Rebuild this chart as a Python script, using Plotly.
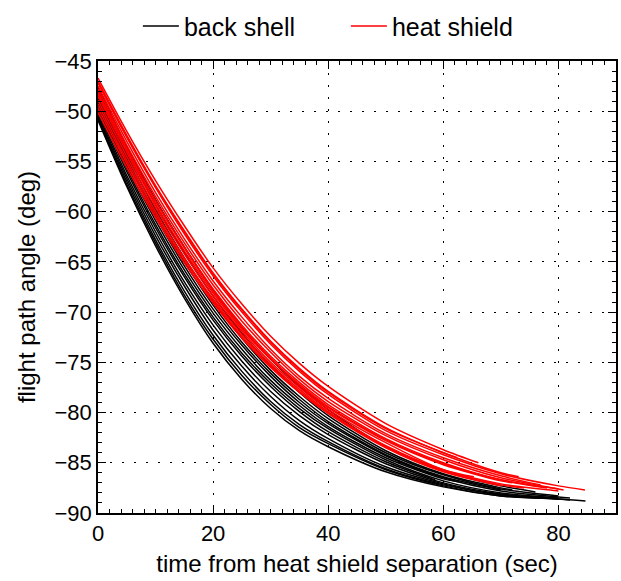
import plotly.graph_objects as go

# ---- data (time in s, flight path angle in deg) ----
T_STD = [0, 5, 10, 15, 20, 25, 30, 35, 40, 50, 60, 70, 80]

back_shell_t = [
    T_STD[:12] + [76],
    T_STD[:12] + [72],
    T_STD[:13],
    T_STD[:12],
    T_STD[:13] + [82],
    T_STD[:11] + [62.7],
    T_STD[:13],
    T_STD[:10] + [58.6],
    T_STD[:13] + [82],
    T_STD[:12] + [75],
    T_STD[:13],
    T_STD[:13],
    T_STD[:13] + [84.7],
]
back_shell_v = [
    [-47.6, -53.5, -58.8, -63.5, -67.8, -71.5, -74.7, -77.4, -79.7, -83.4, -85.8, -87.3, -87.9],
    [-47.9, -53.9, -59.3, -64.1, -68.4, -72.1, -75.3, -78.0, -80.3, -83.8, -86.1, -87.5, -87.7],
    [-48.2, -54.3, -59.8, -64.6, -68.9, -72.6, -75.8, -78.4, -80.6, -84.0, -86.2, -87.6, -88.3],
    [-48.5, -54.7, -60.2, -65.0, -69.3, -73.0, -76.1, -78.7, -80.9, -84.2, -86.4, -87.7],
    [-48.8, -55.0, -60.5, -65.4, -69.7, -73.3, -76.4, -79.0, -81.1, -84.3, -86.5, -87.8, -88.4, -88.5],
    [-49.1, -55.4, -60.9, -65.8, -70.1, -73.7, -76.8, -79.3, -81.4, -84.5, -86.6, -86.9],
    [-49.4, -55.7, -61.3, -66.2, -70.5, -74.1, -77.1, -79.6, -81.6, -84.7, -86.8, -88.0, -88.5],
    [-49.7, -56.0, -61.6, -66.5, -70.8, -74.4, -77.4, -79.9, -81.9, -84.9, -86.7],
    [-50.0, -56.4, -62.0, -67.0, -71.3, -74.9, -77.9, -80.3, -82.2, -85.1, -87.0, -88.1, -88.6, -88.7],
    [-50.3, -56.7, -62.4, -67.4, -71.8, -75.4, -78.4, -80.8, -82.6, -85.4, -87.1, -88.2, -88.4],
    [-50.5, -57.0, -62.8, -67.9, -72.3, -75.9, -78.9, -81.2, -82.9, -85.6, -87.2, -88.2, -88.6],
    [-50.7, -57.3, -63.1, -68.3, -72.7, -76.3, -79.2, -81.5, -83.1, -85.7, -87.3, -88.3, -88.6],
    [-50.9, -57.5, -63.4, -68.6, -73.1, -76.7, -79.6, -81.8, -83.4, -85.9, -87.4, -88.3, -88.6, -88.8],
]

heat_shield_t = [
    T_STD[:11] + [66.1],
    T_STD[:12] + [73.1],
    T_STD[:13] + [84.6],
    T_STD[:12] + [76.9],
    T_STD[:13] + [80.9],
    T_STD[:11] + [62.4],
    T_STD[:12] + [78],
    T_STD[:12] + [72],
    T_STD[:11] + [65.3],
    T_STD[:13],
    T_STD[:12] + [74],
    T_STD[:12],
    T_STD[:13],
]
heat_shield_v = [
    [-46.7, -52.0, -56.9, -61.4, -65.6, -69.2, -72.4, -75.1, -77.4, -81.1, -83.7, -85.0],
    [-47.0, -52.4, -57.4, -61.9, -66.1, -69.7, -72.9, -75.6, -77.9, -81.5, -84.0, -86.0, -86.4],
    [-47.2, -52.6, -57.6, -62.2, -66.4, -70.0, -73.2, -75.9, -78.2, -81.8, -84.2, -86.1, -87.3, -87.7],
    [-47.5, -53.0, -58.1, -62.7, -66.9, -70.5, -73.7, -76.4, -78.6, -82.1, -84.5, -86.3, -87.2],
    [-47.8, -53.4, -58.5, -63.1, -67.3, -70.9, -74.0, -76.7, -78.9, -82.3, -84.7, -86.5, -87.6, -87.7],
    [-47.1, -52.5, -57.5, -62.0, -66.2, -69.8, -73.0, -75.7, -78.0, -81.6, -84.0, -84.5],
    [-48.1, -53.7, -58.9, -63.5, -67.7, -71.3, -74.4, -77.0, -79.2, -82.6, -85.0, -86.7, -87.5],
    [-48.5, -54.1, -59.3, -63.9, -68.1, -71.7, -74.7, -77.3, -79.5, -82.8, -85.2, -86.8, -87.0],
    [-48.9, -54.5, -59.6, -64.2, -68.4, -71.9, -75.0, -77.5, -79.7, -83.0, -85.7, -86.4],
    [-49.3, -54.9, -60.0, -64.6, -68.7, -72.2, -75.2, -77.7, -79.9, -83.3, -85.7, -87.1, -87.8],
    [-49.7, -55.2, -60.3, -64.8, -68.9, -72.4, -75.4, -77.9, -80.0, -83.4, -85.8, -87.2, -87.5],
    [-50.1, -55.6, -60.6, -65.1, -69.1, -72.6, -75.5, -78.0, -80.1, -83.5, -85.9, -87.3],
    [-48.3, -53.9, -59.0, -63.6, -67.9, -71.5, -74.6, -77.2, -79.4, -82.7, -85.1, -86.7, -87.6],
]

x_ticks = [0, 20, 40, 60, 80]
y_ticks = [-90, -85, -80, -75, -70, -65, -60, -55, -50, -45]

FONT = "Liberation Sans, Arial, Helvetica, sans-serif"
LW = 1.5

fig = go.Figure()

for i, (t, v) in enumerate(zip(back_shell_t, back_shell_v)):
    fig.add_trace(go.Scatter(x=t, y=v, mode="lines",
                             line=dict(color="black", width=LW, shape="spline", smoothing=0.8),
                             name="back shell", legendgroup="bs", showlegend=(i == 0)))
for i, (t, v) in enumerate(zip(heat_shield_t, heat_shield_v)):
    fig.add_trace(go.Scatter(x=t, y=v, mode="lines",
                             line=dict(color="#ff0000", width=LW, shape="spline", smoothing=0.8),
                             name="heat shield", legendgroup="hs", showlegend=(i == 0)))

axis_common = dict(
    showline=True, linecolor="black", linewidth=1.5, mirror="ticks",
    ticks="inside", ticklen=8, tickwidth=1, tickcolor="black",
    showgrid=True, gridcolor="black", griddash="2px,10px", gridwidth=1,
    zeroline=False, tickfont=dict(family=FONT, size=22, color="black"),
)

fig.update_xaxes(range=[0, 90], tickvals=x_ticks,
                 title=dict(text="time from heat shield separation (sec)",
                            font=dict(family=FONT, size=24, color="black"), standoff=10),
                 minor=dict(dtick=2, ticks="inside", ticklen=4, tickcolor="black", showgrid=False),
                 **axis_common)
fig.update_yaxes(range=[-90, -45], tickvals=y_ticks,
                 title=dict(text="flight path angle (deg)",
                            font=dict(family=FONT, size=24, color="black"), standoff=12),
                 minor=dict(dtick=1, ticks="inside", ticklen=4, tickcolor="black", showgrid=False),
                 **axis_common)

fig.update_layout(
    width=621, height=581,
    margin=dict(l=98, r=3, t=46, b=68),
    plot_bgcolor="white", paper_bgcolor="white",
    font=dict(family=FONT, size=22, color="black"),
    legend=dict(orientation="h", x=0.077, xanchor="left", y=1.077, yanchor="middle",
                itemwidth=36, entrywidth=157,
                font=dict(family=FONT, size=25, color="black"), bgcolor="rgba(0,0,0,0)"),
)

fig.write_html("out.html")
